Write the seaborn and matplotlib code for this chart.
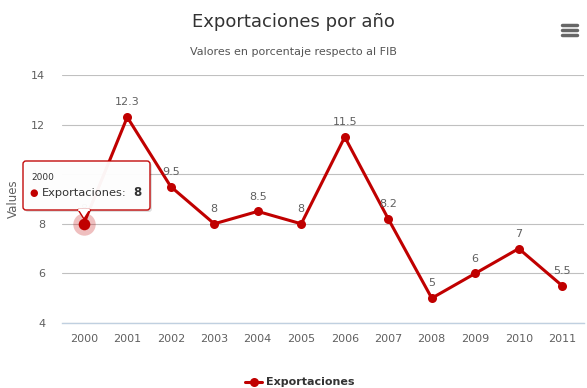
import numpy as np
import pandas as pd
import seaborn as sns
import matplotlib.pyplot as plt
from matplotlib.patches import FancyBboxPatch, Polygon

years = ["2000", "2001", "2002", "2003", "2004", "2005",
         "2006", "2007", "2008", "2009", "2010", "2011"]
exportaciones = [8, 12.3, 9.5, 8, 8.5, 8, 11.5, 8.2, 5, 6, 7, 5.5]
y_ticks = [4, 6, 8, 10, 12, 14]

red = "#c00000"

sns.set_theme(style="white")
plt.rcParams["font.family"] = ["DejaVu Sans"]

df = pd.DataFrame({"pos": np.arange(len(years)), "value": exportaciones})

fig = plt.figure(figsize=(5.87, 3.88), dpi=100)
ax = fig.add_axes([62 / 587, 1 - 323 / 388, 522 / 587, 248 / 388])

sns.lineplot(data=df, x="pos", y="value", ax=ax, color=red, linewidth=2.2,
             marker="o", markersize=6.5, markeredgewidth=0, zorder=3)

ax.set_xlim(-0.5, len(years) - 0.5)
ax.set_ylim(4, 14)
ax.set_yticks(y_ticks)
ax.set_yticklabels([str(t) for t in y_ticks])
ax.set_xticks(df["pos"])
ax.set_xticklabels(years)
ax.set_xticks(np.arange(-0.5, len(years), 1), minor=True)
ax.tick_params(axis="x", which="major", length=0, pad=8, labelsize=8, labelcolor="#606060")
ax.tick_params(axis="x", which="minor", length=9, width=1, color="#c0d0e0", direction="out")
ax.tick_params(axis="y", length=0, pad=12, labelsize=8, labelcolor="#606060")

ax.grid(axis="y", color="#c0c0c0", linewidth=0.8)
ax.grid(axis="x", visible=False)
for side in ["top", "right", "left"]:
    ax.spines[side].set_visible(False)
ax.spines["bottom"].set_color("#c0d0e0")
ax.spines["bottom"].set_linewidth(1)
ax.set_xlabel("")
ax.set_ylabel("Values", fontsize=8.5, color="#606060")
ax.yaxis.set_label_coords(-(62 - 20) / 522, 0.5)

# data labels
for i, v in enumerate(exportaciones):
    ax.annotate(f"{v:g}", (i, v), xytext=(0, 7), textcoords="offset points",
                ha="center", va="bottom", fontsize=8, color="#606060", zorder=4)

# hovered point halo
ax.scatter([0], [exportaciones[0]], s=260, color=red, alpha=0.25, linewidths=0, zorder=2)
ax.scatter([0], [exportaciones[0]], s=70, color=red, linewidths=0, zorder=4)

fig.text(0.5, 1 - 22 / 388, "Exportaciones por año", ha="center", va="center",
         fontsize=13, color="#333333")
fig.text(0.5, 1 - 52 / 388, "Valores en porcentaje respecto al FIB", ha="center",
         va="center", fontsize=8, color="#555555")

# menu icon
for yy in [25, 30, 35]:
    fig.add_artist(plt.Line2D([562 / 587, 577 / 587], [1 - yy / 388, 1 - yy / 388],
                              color="#666666", linewidth=2.5))

# tooltip (covers the "10" tick label, as in the hover state)
x0, x1, y0, y1 = 23, 150, 161, 210
shadow = FancyBboxPatch((x0 + 2, 388 - y1 - 2), x1 - x0, y1 - y0,
                        boxstyle="round,pad=0,rounding_size=3", transform=None,
                        facecolor="#000000", alpha=0.12, edgecolor="none", zorder=9)
box = FancyBboxPatch((x0, 388 - y1), x1 - x0, y1 - y0,
                     boxstyle="round,pad=0,rounding_size=3", transform=None,
                     facecolor="white", alpha=0.96, edgecolor=red, linewidth=1, zorder=10)
arrow = Polygon([(78, 388 - y1 + 0.5), (90, 388 - y1 + 0.5), (84, 388 - 219)],
                closed=True, transform=None, facecolor="white", edgecolor=red,
                linewidth=1, zorder=10)
fig.add_artist(shadow)
fig.add_artist(box)
fig.add_artist(arrow)
fig.add_artist(plt.Line2D([78.8 / 587, 89.2 / 587], [(388 - y1 + 0.5) / 388] * 2,
                          color="white", linewidth=1.5, zorder=11))
fig.text(31 / 587, 1 - 178 / 388, "2000", fontsize=6.5, color="#333333",
         va="center", zorder=12)
fig.text(29 / 587, 1 - 193 / 388, "●", fontsize=7, color=red, va="center", zorder=12)
fig.text(42 / 587, 1 - 193 / 388, "Exportaciones:", fontsize=8.2, color="#333333",
         va="center", zorder=12)
fig.text(133 / 587, 1 - 193 / 388, "8", fontsize=8.5, color="#333333",
         fontweight="bold", va="center", zorder=12)

# legend
fig.add_artist(plt.Line2D([245 / 587, 262 / 587], [1 - 382 / 388] * 2, color=red,
                          linewidth=2.2))
fig.add_artist(plt.Line2D([253.5 / 587], [1 - 382 / 388], color=red, marker="o",
                          markersize=6.5, markeredgewidth=0))
fig.text(266 / 587, 1 - 382 / 388, "Exportaciones", fontsize=8, fontweight="bold",
         color="#333333", va="center")

fig.savefig("out.png", dpi=100)
